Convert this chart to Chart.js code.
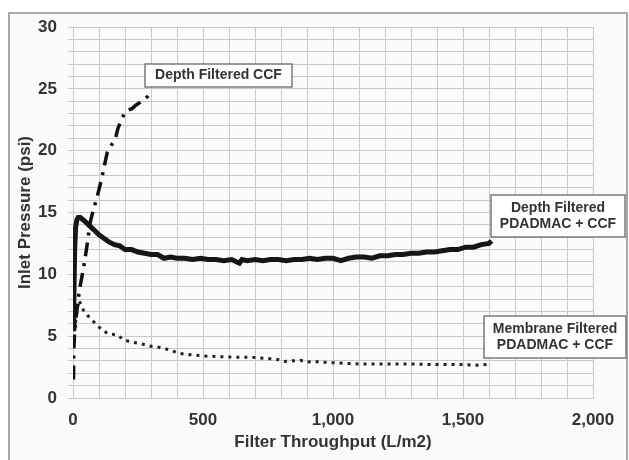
<!DOCTYPE html>
<html>
<head>
<meta charset="utf-8">
<script src="https://cdn.jsdelivr.net/npm/chart.js@4.4.1/dist/chart.umd.min.js"></script>
<style>
  html, body { margin: 0; padding: 0; background: #fff; }
  #wrap { width: 629px; height: 460px; position: relative; }
</style>
</head>
<body>
<div id="wrap"><canvas id="chart" width="629" height="460"></canvas></div>
<script>
// Depth filtered CCF (dash-dot curve)
const ccfThroughput = [2, 3, 6, 12, 20, 27, 35, 46, 55, 65, 78, 92, 104, 115, 131, 146, 162, 173, 188, 200, 215, 227, 243, 258, 270, 288, 304];
const ccfPressure   = [1.5, 3.8, 5.2, 6.5, 8.0, 9.0, 9.9, 11.2, 12.5, 14.1, 15.2, 16.2, 17.2, 18.2, 19.8, 20.4, 20.9, 21.8, 22.6, 23.1, 23.3, 23.4, 23.7, 23.9, 24.1, 24.4, 24.8];

// Depth filtered PDADMAC + CCF (thick line)
const depthThroughput = [0, 3, 6, 10, 15, 20, 28, 40, 55, 70, 85, 100, 120, 140, 160, 180, 200, 225, 250, 275, 300, 325, 350, 375, 400, 430, 460, 490, 520, 550, 580, 610, 640, 650, 670, 700, 730, 760, 790, 820, 850, 880, 910, 940, 970, 1000, 1030, 1060, 1090, 1120, 1150, 1180, 1210, 1240, 1270, 1300, 1330, 1360, 1390, 1420, 1450, 1480, 1510, 1540, 1570, 1600, 1610];
const depthPressure   = [5.6, 7.5, 11.8, 13.8, 14.4, 14.6, 14.6, 14.4, 14.1, 13.8, 13.5, 13.2, 12.9, 12.6, 12.4, 12.3, 12.0, 12.0, 11.8, 11.7, 11.6, 11.6, 11.3, 11.4, 11.3, 11.3, 11.2, 11.3, 11.2, 11.2, 11.1, 11.2, 10.9, 11.2, 11.1, 11.2, 11.1, 11.2, 11.2, 11.1, 11.2, 11.2, 11.3, 11.2, 11.3, 11.3, 11.1, 11.3, 11.4, 11.4, 11.3, 11.5, 11.5, 11.6, 11.6, 11.7, 11.7, 11.8, 11.8, 11.9, 12.0, 12.0, 12.2, 12.2, 12.4, 12.5, 12.7];

// Membrane filtered PDADMAC + CCF (dotted line)
const membThroughput = [0, 8, 15, 22, 30, 40, 55, 73, 92, 112, 135, 170, 195, 230, 260, 295, 330, 370, 410, 450, 500, 560, 615, 680, 746, 790, 810, 840, 875, 900, 925, 960, 1000, 1050, 1100, 1200, 1300, 1400, 1500, 1560, 1605];
const membPressure   = [4.8, 5.8, 7.0, 7.9, 7.6, 7.1, 6.7, 6.3, 5.9, 5.5, 5.2, 5.1, 4.7, 4.5, 4.4, 4.2, 4.1, 3.9, 3.6, 3.5, 3.4, 3.35, 3.3, 3.3, 3.2, 3.1, 2.95, 3.0, 3.05, 2.9, 2.95, 2.9, 2.85, 2.8, 2.75, 2.75, 2.75, 2.7, 2.7, 2.65, 2.75];

const notes = [
  { lines: ['Depth Filtered CCF'], box: [145, 64, 292, 87] },
  { lines: ['Depth Filtered', 'PDADMAC + CCF'], box: [491, 195, 625, 237] },
  { lines: ['Membrane Filtered', 'PDADMAC + CCF'], box: [484, 316, 626, 358] }
];

const FONT = "'Liberation Sans', Arial, sans-serif";
const TEXT = '#333333';
const GRID = '#c9c9c9';

function pairs(xs, ys) {
  return xs.map((x, i) => ({ x: x, y: ys[i] }));
}

// outer frame and panel background
const framePlugin = {
  id: 'frame',
  beforeDraw(chart) {
    const ctx = chart.ctx;
    ctx.save();
    ctx.fillStyle = '#fbfbfb';
    ctx.fillRect(9, 13, 618, 460);
    ctx.strokeStyle = '#a9a9a9';
    ctx.lineWidth = 2;
    ctx.strokeRect(9, 13, 618, 470);
    ctx.restore();
  }
};

// labels in boxes
const notePlugin = {
  id: 'notes',
  afterDatasetsDraw(chart) {
    const ctx = chart.ctx;
    ctx.save();
    ctx.font = 'bold 14px ' + FONT;
    ctx.textAlign = 'center';
    ctx.textBaseline = 'middle';
    notes.forEach(n => {
      const [x1, y1, x2, y2] = n.box;
      ctx.fillStyle = '#ffffff';
      ctx.fillRect(x1, y1, x2 - x1, y2 - y1);
      ctx.strokeStyle = '#7a7a7a';
      ctx.lineWidth = 1.5;
      ctx.strokeRect(x1, y1, x2 - x1, y2 - y1);
      ctx.fillStyle = TEXT;
      const cx = (x1 + x2) / 2;
      const step = 16;
      const start = (y1 + y2) / 2 - (n.lines.length - 1) * step / 2;
      n.lines.forEach((t, i) => ctx.fillText(t, cx, start + i * step));
    });
    ctx.restore();
  }
};

new Chart(document.getElementById('chart'), {
  type: 'line',
  data: {
    datasets: [
      {
        label: 'Depth Filtered CCF',
        data: pairs(ccfThroughput, ccfPressure),
        borderColor: '#111',
        borderWidth: 3.5,
        borderDash: [14, 7, 3, 7],
        pointRadius: 0,
        tension: 0
      },
      {
        label: 'Depth Filtered PDADMAC + CCF',
        data: pairs(depthThroughput, depthPressure),
        borderColor: '#161616',
        borderWidth: 5,
        pointRadius: 0,
        tension: 0
      },
      {
        label: 'Membrane Filtered PDADMAC + CCF',
        data: pairs(membThroughput, membPressure),
        borderColor: '#222',
        borderWidth: 3,
        borderDash: [3, 5],
        pointRadius: 0,
        tension: 0
      }
    ]
  },
  options: {
    responsive: false,
    animation: false,
    layout: { padding: { left: 0, top: 27, right: 36, bottom: 0 } },
    plugins: {
      legend: { display: false },
      tooltip: { enabled: false }
    },
    scales: {
      x: {
        type: 'linear',
        min: 0,
        max: 2000,
        afterFit(scale) { scale.height = 62; },
        grid: { color: GRID, lineWidth: 1, drawTicks: false },
        border: { color: GRID },
        ticks: {
          stepSize: 100,
          maxTicksLimit: 100,
          padding: 12,
          color: TEXT,
          font: { family: FONT, size: 17, weight: 'bold' },
          maxRotation: 0,
          autoSkip: false,
          callback: v => (v % 500 === 0 ? v.toLocaleString('en-US') : '')
        },
        title: {
          display: true,
          text: 'Filter Throughput (L/m2)',
          color: TEXT,
          font: { family: FONT, size: 17, weight: 'bold' },
          padding: { top: 0, bottom: 7 }
        }
      },
      y: {
        min: 0,
        max: 30,
        afterFit(scale) { scale.width = 73; },
        grid: { color: GRID, lineWidth: 1, drawTicks: true, tickLength: 5, tickColor: GRID },
        border: { color: GRID },
        ticks: {
          stepSize: 1,
          maxTicksLimit: 100,
          padding: 11,
          color: TEXT,
          font: { family: FONT, size: 17, weight: 'bold' },
          autoSkip: false,
          callback: v => (v % 5 === 0 ? String(v) : '')
        },
        title: {
          display: true,
          text: 'Inlet Pressure (psi)',
          color: TEXT,
          font: { family: FONT, size: 17, weight: 'bold' },
          padding: { top: 15, bottom: 0 }
        }
      }
    }
  },
  plugins: [framePlugin, notePlugin]
});
</script>
</body>
</html>
